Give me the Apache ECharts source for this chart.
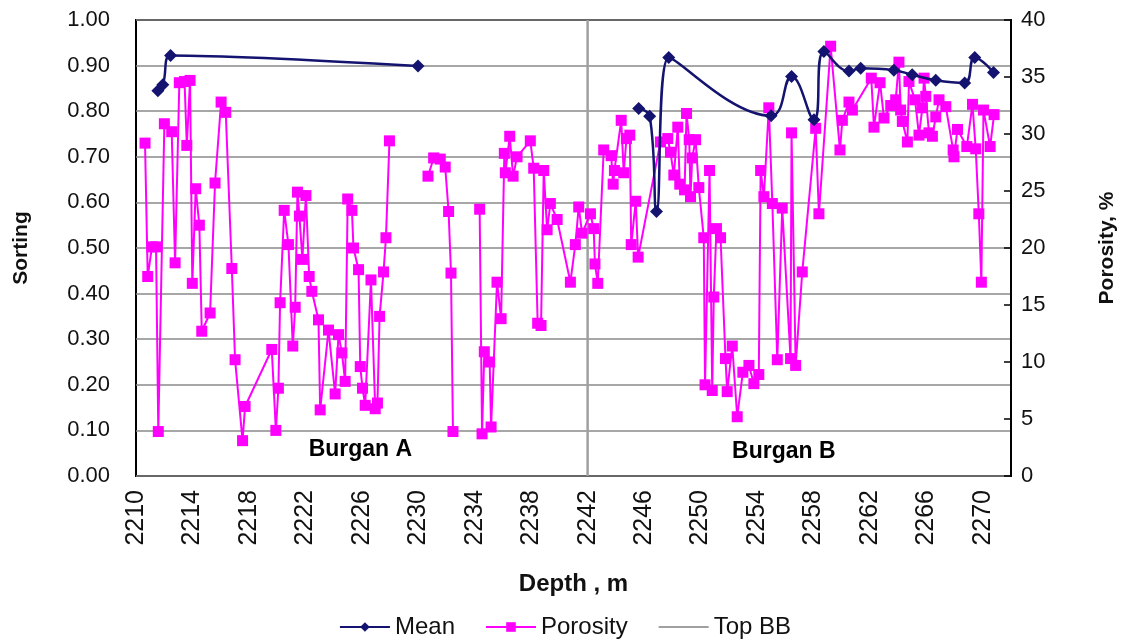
<!DOCTYPE html>
<html>
<head>
<meta charset="utf-8">
<script src="https://cdn.jsdelivr.net/npm/echarts@6/dist/echarts.min.js"></script>
<style>
html,body{margin:0;padding:0;background:#fff;}
#chart{width:1130px;height:642px;}
</style>
</head>
<body>
<div id="chart"></div>
<script>
// ---- Data ----
const depthTickLabels = [2210,2214,2218,2222,2226,2230,2234,2238,2242,2246,2250,2254,2258,2262,2266,2270];
const sortingTicks = [0,0.1,0.2,0.3,0.4,0.5,0.6,0.7,0.8,0.9,1.0];
const porosityTicks = [0,5,10,15,20,25,30,35,40];

const meanDepth = [2211.55,2211.90,2212.45,2229.98,2238.00,2245.62,2246.40,2246.88,2247.75,2255.00,2256.45,2258.04,2258.74,2260.52,2261.35,2263.70,2265.00,2266.67,2268.72,2269.43,2270.76];
const meanSorting = [0.845,0.858,0.922,0.899,null,0.806,0.789,0.580,0.918,0.790,0.876,0.781,0.931,0.888,0.894,0.890,0.880,0.868,0.862,0.918,0.885];

const porDepth = [
2210.64,2210.83,2211.13,2211.42,2211.58,2212.01,2212.53,2212.77,2213.07,2213.44,2213.60,2213.83,2213.99,2214.23,2214.49,2214.66,2215.25,2215.60,2216.03,2216.36,2216.79,2217.02,2217.55,2217.73,
2219.62,2219.91,2220.09,2220.21,2220.50,2220.80,2221.11,2221.28,2221.44,2221.58,2221.79,2222.04,2222.27,2222.46,2222.93,2223.05,2223.64,2224.11,2224.35,2224.59,2224.82,2225.00,2225.30,2225.41,2225.77,2225.89,2226.05,2226.24,2226.65,2226.95,2227.11,2227.26,2227.54,2227.71,2227.96,
2229.30,
2230.69,2231.09,2231.56,2231.91,2232.15,2232.32,2232.46,
2233.40,
2234.35,2234.52,2234.68,2235.06,2235.16,2235.58,2235.87,2236.10,2236.17,2236.48,2236.72,2237.00,2237.94,2238.18,2238.46,2238.70,2238.89,2239.13,2239.36,2239.84,2240.78,2241.13,2241.37,2241.61,
2242.20,2242.43,2242.52,2242.72,2243.14,2243.67,2243.81,2243.90,2244.38,2244.56,2244.75,2244.99,2245.09,2245.41,2245.58,2247.16,2247.68,2247.87,2248.11,2248.39,2248.53,2248.87,2249.01,2249.20,2249.29,2249.41,2249.65,2249.88,
2250.23,2250.32,2250.64,2250.83,2250.94,2251.13,2251.42,2251.77,2251.89,2252.25,2252.60,2253.00,2253.43,2253.78,2254.13,2254.26,2254.49,2254.84,2255.09,2255.44,2255.79,2256.38,2256.45,2256.74,2257.21,2258.16,2258.39,2259.22,
2259.88,2260.05,2260.52,2260.76,2262.10,2262.29,2262.72,2263.00,2263.48,2263.83,2264.06,2264.18,2264.30,2264.66,2264.77,2265.20,2265.48,2265.72,2265.84,2265.96,2266.19,2266.43,2266.67,2266.90,2267.38,2267.90,2267.96,2268.21,2268.87,2269.27,2269.50,2269.72,2269.90,2270.05,2270.52,2270.80
];
const porValue = [
29.2,17.5,20.1,20.1,3.9,30.9,30.2,18.7,34.5,34.6,29.0,34.7,16.9,25.2,22.0,12.7,14.3,25.7,32.8,31.9,18.2,10.2,3.1,6.1,
11.1,4.0,7.7,15.2,23.3,20.3,11.4,14.8,24.9,22.8,19.0,24.6,17.5,16.2,13.7,5.8,12.8,7.2,12.4,10.8,8.3,24.3,23.3,20.0,18.1,9.6,7.7,6.2,17.2,5.9,6.4,14.0,17.9,20.9,29.4,
null,
26.3,27.9,27.8,27.1,23.2,17.8,3.9,
null,
23.4,3.7,10.9,10.0,4.3,17.0,13.8,28.3,26.6,29.8,26.3,28.0,29.4,27.0,13.4,13.2,26.8,21.6,23.9,22.5,17.0,20.3,23.6,21.3,
23.0,21.7,18.6,16.9,28.6,28.1,25.6,26.8,31.2,26.6,29.6,29.9,20.3,24.1,19.2,29.3,29.6,28.4,26.4,30.6,25.6,25.1,31.8,29.5,24.5,27.9,29.5,25.3,
20.9,8.0,26.8,7.5,15.7,21.7,20.9,10.3,7.4,11.4,5.2,9.1,9.7,8.1,8.9,26.8,24.5,32.3,23.9,10.2,23.5,10.3,30.1,9.7,17.9,30.5,23.0,37.7,
28.6,31.2,32.8,32.1,34.9,30.6,34.5,31.4,32.5,33.0,36.3,32.1,31.1,29.3,34.6,33.0,29.9,32.3,34.9,33.3,30.1,29.8,31.5,33.0,32.4,28.6,28.0,30.4,28.9,32.6,28.7,23.0,17.0,32.1,28.9,31.7
];

const topBBDepth = 2242;
const zoneNames = ['Burgan A','Burgan B'];
const zoneDepth = [2225.9, 2255.9];
const zoneSorting = [0.057, 0.053];

// ---- Build ----
const pairs = (xs, ys) => xs.map((x,i) => ys[i] === null ? [x,'-'] : [x, ys[i]]);
const FONT = "'Liberation Sans', Arial, sans-serif";
const TXT = '#111';

const chart = echarts.init(document.getElementById('chart'), null, {renderer:'canvas'});
chart.setOption({
  backgroundColor:'#fff',
  animation:false,
  textStyle:{fontFamily:FONT},
  grid:{left:136,right:119,top:20,bottom:166,show:true,borderColor:'#000',borderWidth:2,backgroundColor:'transparent'},
  legend:{
    left:'center', top:610, itemWidth:50, itemHeight:12, itemGap:30,
    textStyle:{fontSize:24,color:TXT,fontFamily:FONT},
    data:['Mean','Porosity',{name:'Top BB',itemStyle:{opacity:0}}]
  },
  xAxis:{
    type:'value', min:2210, max:2272, interval:2,
    axisLine:{show:false}, axisTick:{show:false}, splitLine:{show:false},
    axisLabel:{
      rotate:90, fontSize:25, color:TXT, margin:14, fontFamily:FONT,
      formatter:v => depthTickLabels.indexOf(v) >= 0 ? String(v) : ''
    },
    name:'Depth , m', nameLocation:'middle', nameGap:96,
    nameTextStyle:{fontSize:24,fontWeight:'bold',color:TXT,fontFamily:FONT}
  },
  yAxis:[
    {
      type:'value', min:sortingTicks[0], max:sortingTicks[sortingTicks.length-1], interval:0.1,
      axisLine:{show:false}, axisTick:{show:false},
      splitLine:{show:true,lineStyle:{color:'#8a8a8a',width:1.5}},
      axisLabel:{fontSize:22,color:TXT,margin:26,formatter:v=>v.toFixed(2),fontFamily:FONT},
      name:'Sorting', nameLocation:'middle', nameGap:104, nameRotate:90,
      nameTextStyle:{fontSize:21,fontWeight:'bold',color:TXT,fontFamily:FONT}
    },
    {
      type:'value', position:'right', min:porosityTicks[0], max:porosityTicks[porosityTicks.length-1], interval:5,
      axisLine:{show:true,lineStyle:{color:'#000',width:2}},
      axisTick:{show:true,inside:true,length:7,lineStyle:{color:'#000',width:1.5}},
      splitLine:{show:false},
      axisLabel:{fontSize:22,color:TXT,margin:10,fontFamily:FONT},
      name:'Porosity, %', nameLocation:'middle', nameGap:86, nameRotate:90,
      nameTextStyle:{fontSize:21,fontWeight:'bold',color:TXT,fontFamily:FONT}
    }
  ],
  series:[
    {
      name:'Top BB', type:'line', xAxisIndex:0, yAxisIndex:0, z:1,
      data:[[topBBDepth,sortingTicks[0]],[topBBDepth,sortingTicks[sortingTicks.length-1]]],
      symbol:'none', lineStyle:{color:'#a0a0a0',width:2.5}, itemStyle:{color:'#a0a0a0'}
    },
    {
      name:'Porosity', type:'line', xAxisIndex:0, yAxisIndex:1, z:3,
      data:pairs(porDepth, porValue), connectNulls:false,
      symbol:'rect', symbolSize:11, showAllSymbol:true,
      lineStyle:{color:'#ff00ff',width:2}, itemStyle:{color:'#ff00ff'}
    },
    {
      name:'Mean', type:'line', xAxisIndex:0, yAxisIndex:0, z:4,
      data:pairs(meanDepth, meanSorting), connectNulls:false,
      smooth:0.45, symbol:'diamond', symbolSize:13, showAllSymbol:true,
      lineStyle:{color:'#141470',width:2.5}, itemStyle:{color:'#141470'}
    },
    {
      name:'zones', type:'scatter', xAxisIndex:0, yAxisIndex:0, z:5,
      symbolSize:1, silent:true, legendHoverLink:false,
      itemStyle:{color:'rgba(0,0,0,0)'},
      data:zoneNames.map((n,i)=>({value:[zoneDepth[i],zoneSorting[i]],name:n})),
      label:{show:true,position:'inside',formatter:p=>p.name,fontSize:23,fontWeight:'bold',
             color:'#000',textBorderWidth:0,opacity:1,fontFamily:FONT}
    }
  ]
});
</script>
</body>
</html>
